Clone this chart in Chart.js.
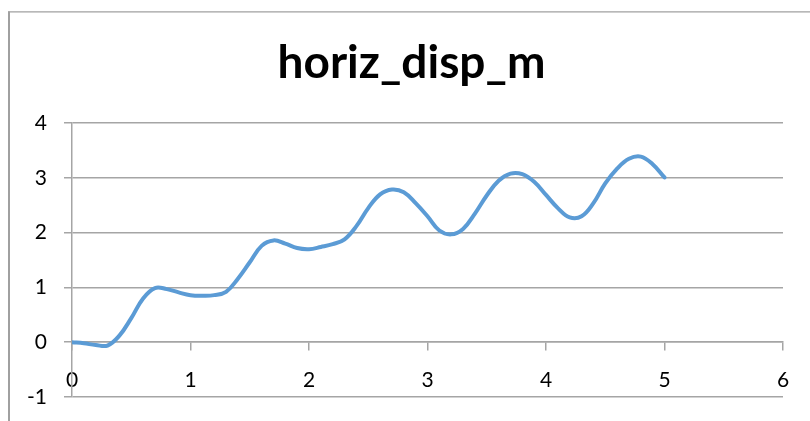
<!DOCTYPE html>
<html>
<head>
<meta charset="utf-8">
<script src="https://cdn.jsdelivr.net/npm/chart.js@4.4.1/dist/chart.umd.min.js"></script>
<style>
  html, body { margin: 0; padding: 0; background: #fff; }
  #wrap { width: 810px; height: 421px; position: relative; }
</style>
</head>
<body>
<div id="wrap"><canvas id="myChart" width="810" height="421"></canvas></div>
<script>
// data
const xValues = [0, 0.1, 0.2, 0.3, 0.4, 0.5, 0.6, 0.7, 0.8, 0.9,
  1, 1.1, 1.2, 1.3, 1.4, 1.5, 1.6, 1.7, 1.8, 1.9,
  2, 2.1, 2.2, 2.3, 2.4, 2.5, 2.6, 2.7, 2.8, 2.9,
  3, 3.1, 3.2, 3.3, 3.4, 3.5, 3.6, 3.7, 3.8, 3.9,
  4, 4.1, 4.2, 4.3, 4.4, 4.5, 4.6, 4.7, 4.8, 4.9, 5];
const horizDisp = [0, -0.02, -0.05, -0.06, 0.12, 0.44, 0.8, 0.99, 0.97, 0.91,
  0.86, 0.85, 0.86, 0.92, 1.16, 1.46, 1.76, 1.86, 1.8, 1.72,
  1.70, 1.74, 1.79, 1.88, 2.12, 2.45, 2.7, 2.79, 2.74, 2.54,
  2.3, 2.04, 1.97, 2.07, 2.35, 2.68, 2.95, 3.08, 3.07, 2.93,
  2.69, 2.45, 2.28, 2.3, 2.54, 2.9, 3.17, 3.35, 3.39, 3.25, 3.01];
const seriesName = "horiz_disp_m";
const xTicks = [0, 1, 2, 3, 4, 5, 6];
const yTicks = [-1, 0, 1, 2, 3, 4];

const gridGray = "#a5a5a5";

// outer chart frame (only left and top edges are inside the picture)
const framePlugin = {
  id: "frame",
  afterDraw(chart) {
    const ctx = chart.ctx;
    ctx.save();
    ctx.strokeStyle = "#a0a0a0";
    ctx.lineWidth = 2;
    ctx.beginPath();
    ctx.moveTo(9, 421);
    ctx.lineTo(9, 11.5);
    ctx.stroke();
    ctx.lineWidth = 1.2;
    ctx.beginPath();
    ctx.moveTo(8, 11.8);
    ctx.lineTo(810, 11.8);
    ctx.stroke();
    ctx.restore();
  }
};

const points = xValues.map((x, i) => ({x: x, y: horizDisp[i]}));

const ctx = document.getElementById("myChart").getContext("2d");
const myChart = new Chart(ctx, {
  type: "scatter",
  data: {
    datasets: [{
      label: seriesName,
      data: points,
      showLine: true,
      borderColor: "#5b9bd5",
      backgroundColor: "#5b9bd5",
      borderWidth: 4,
      pointRadius: 0,
      tension: 0.4,
      borderCapStyle: "round"
    }]
  },
  options: {
    responsive: false,
    animation: false,
    layout: { padding: { left: 13, right: 0, top: 0, bottom: 24 } },
    plugins: {
      legend: { display: false },
      tooltip: { enabled: false },
      title: {
        display: true,
        text: seriesName,
        color: "#000",
        font: { family: "Lato", size: 46, weight: "bold", lineHeight: 1.2 },
        padding: { top: 36, bottom: 32 }
      }
    },
    scales: {
      x: {
        type: "linear",
        position: { y: 0 },
        min: 0,
        max: 6,
        afterBuildTicks: (axis) => { axis.ticks = xTicks.map(v => ({value: v})); },
        ticks: {
          color: "#000",
          font: { family: "Lato", size: 21 },
          padding: 17,
          maxRotation: 0
        },
        grid: {
          drawOnChartArea: false,
          drawTicks: true,
          tickLength: 8,
          color: gridGray,
          lineWidth: 1.5
        },
        border: { display: true, color: gridGray, width: 1.5 }
      },
      y: {
        type: "linear",
        position: "left",
        min: -1,
        max: 4,
        afterBuildTicks: (axis) => { axis.ticks = yTicks.map(v => ({value: v})); },
        afterFit: (axis) => {
          axis.width = 59;
          axis.paddingTop = 13;
          axis.paddingBottom = 13;
        },
        ticks: {
          color: "#000",
          font: { family: "Lato", size: 21 },
          padding: 17
        },
        grid: {
          drawTicks: true,
          tickLength: 8,
          color: gridGray,
          lineWidth: 1.5
        },
        border: { display: true, color: gridGray, width: 1.5 }
      },
      // empty space right of the plot, as in the original sheet
      yRight: {
        type: "linear",
        position: "right",
        display: true,
        ticks: { display: false },
        grid: { display: false },
        border: { display: false },
        afterFit: (axis) => { axis.width = 27; }
      }
    }
  },
  plugins: [framePlugin]
});
</script>
</body>
</html>
